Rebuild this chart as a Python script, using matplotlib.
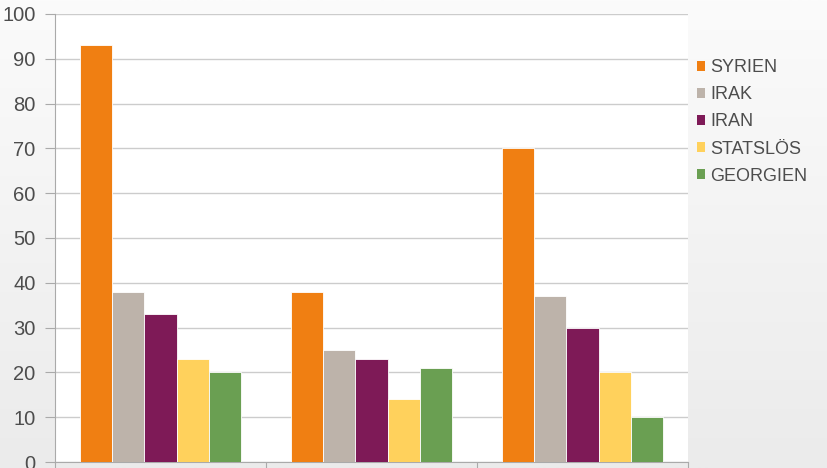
import numpy as np
import matplotlib
matplotlib.use("Agg")
import matplotlib.pyplot as plt
from matplotlib.patches import Patch
from matplotlib.colors import LinearSegmentedColormap

groups = ["2013", "2014", "2015"]
series = ["SYRIEN", "IRAK", "IRAN", "STATSLÖS", "GEORGIEN"]
syrien = [93, 38, 70]
irak = [38, 25, 37]
iran = [33, 23, 30]
statslos = [23, 14, 20]
georgien = [20, 21, 10]
values = [syrien, irak, iran, statslos, georgien]
colors = ["#F07F12", "#BDB3AA", "#7E1A57", "#FFD15C", "#6A9F52"]
yticks = list(range(0, 101, 10))

plt.rcParams['font.family'] = ['Liberation Sans', 'DejaVu Sans']

fig = plt.figure(figsize=(8.28, 4.68), dpi=100)
bg = fig.add_axes([0, 0, 1, 1], zorder=-10)
grad = np.linspace(0, 1, 256).reshape(-1, 1)
cmap = LinearSegmentedColormap.from_list("bg", ["#fbfbfb", "#ebebeb"])
bg.imshow(grad, aspect="auto", cmap=cmap, extent=[0, 1, 0, 1])
bg.axis("off")

ax = fig.add_axes([55/828, 6/468, (688-55)/828, (462-14)/468])
ax.set_facecolor("white")
x = np.arange(len(groups))
w = 0.153
for i, (vals, c) in enumerate(zip(values, colors)):
    ax.bar(x + (i - 2) * w, vals, width=w, color=c, edgecolor="white",
           linewidth=0.6, zorder=3, label=series[i])

ax.set_xlim(-0.5, len(groups) - 0.5)
ax.set_ylim(0, 100)
ax.set_yticks(yticks)
ax.set_yticklabels([str(t) for t in yticks], fontsize=14.5, color="#4d4d4d")
ax.yaxis.grid(True, color="#cccccc", linewidth=1, zorder=0)
ax.set_xticks([-0.5, 0.5, 1.5, 2.5])
ax.set_xticklabels([])
ax.tick_params(axis="y", length=7, color="#aaaaaa", pad=7)
ax.tick_params(axis="x", length=7, color="#aaaaaa")
for s in ["top", "right"]:
    ax.spines[s].set_visible(False)
ax.spines["left"].set_color("#aaaaaa")
ax.spines["bottom"].set_color("#aaaaaa")

handles = [Patch(facecolor=c, edgecolor="none", label=s) for s, c in zip(series, colors)]
leg = fig.legend(handles=handles, loc="upper left", bbox_to_anchor=(681/828, 1 - 43/468),
                 frameon=False, fontsize=13, handlelength=0.45, handleheight=0.45,
                 handletextpad=0.28, labelspacing=0.56, labelcolor="#4d4d4d")

fig.savefig("out.png", dpi=100)
